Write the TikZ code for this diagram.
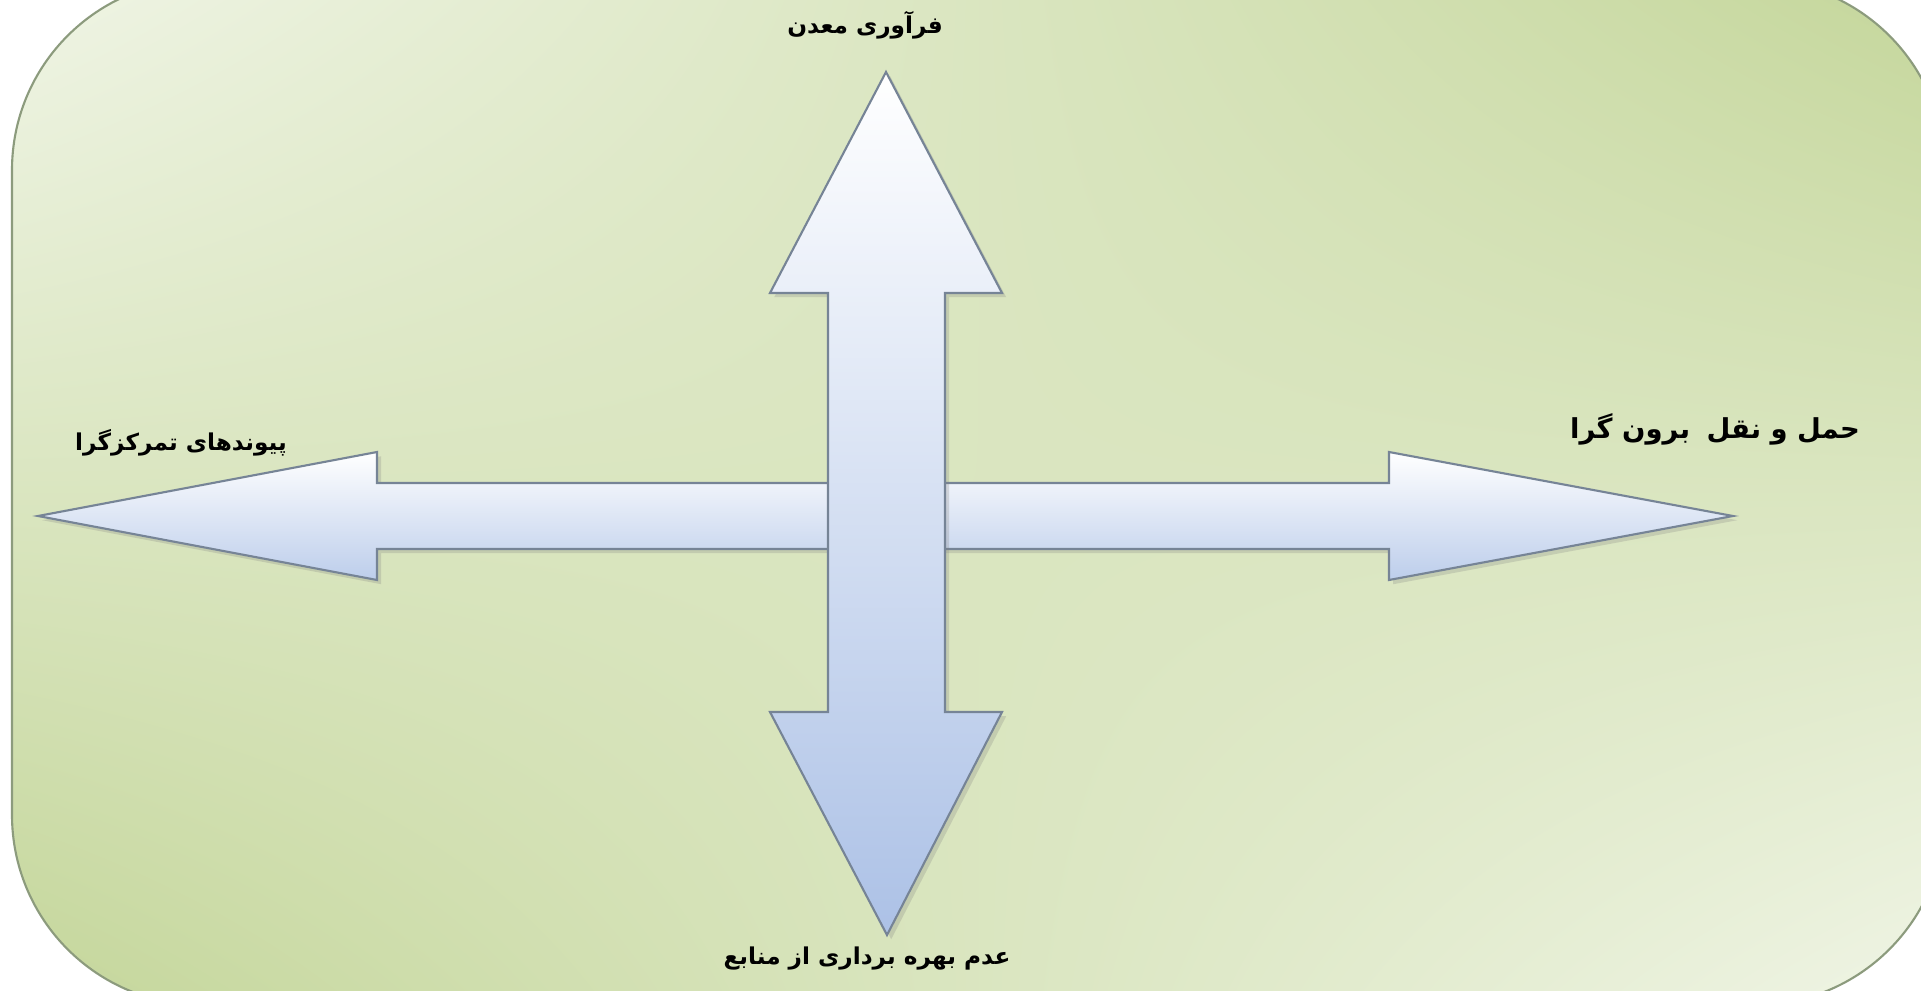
\documentclass[tikz,border=0pt]{standalone}
\usepackage{fontspec}
\newfontfamily\arabicfont[Script=Arabic]{DejaVu Sans}
\TeXXeTstate=1
\usetikzlibrary{positioning, shadows, shadings}
\definecolor{bglight}{RGB}{240,245,230}
\definecolor{bggreen}{RGB}{196,214,154}
\definecolor{bgedge}{RGB}{140,155,125}
\definecolor{arrblue}{RGB}{172,193,230}
\definecolor{arredge}{RGB}{118,132,150}

\begin{document}
\begin{tikzpicture}[x=0.01cm, y=-0.01cm,
  lbl/.style={font=\arabicfont\bfseries\fontsize{6.6}{8}\selectfont, inner sep=0pt},
  harr/.style={draw=arredge, line width=0.6pt, top color=white, bottom color=arrblue!80,
    drop shadow={opacity=0.25, shadow xshift=1.2pt, shadow yshift=-1.2pt}},
  varr/.style={draw=arredge, line width=0.6pt, top color=white, bottom color=arrblue,
    drop shadow={opacity=0.25, shadow xshift=1.2pt, shadow yshift=-1.2pt}}
]
\useasboundingbox (0,0) rectangle (1921,991);
\clip (0,0) rectangle (1921,991);
\fill[white] (0,0) rectangle (1921,991);
% background panel
\shade[upper left=bglight, upper right=bggreen, lower left=bggreen, lower right=bglight,
  rounded corners=1.9cm] (12,-20) rectangle (1945,1005);
\draw[bgedge, line width=0.6pt, rounded corners=1.9cm] (12,-20) rectangle (1945,1005);

% horizontal double arrow
\filldraw[harr] (38,516) -- (377,452) -- (377,483) -- (1389,483) -- (1389,452) -- (1733,516)
  -- (1389,580) -- (1389,549) -- (377,549) -- (377,580) -- cycle;
% vertical double arrow
\filldraw[varr] (886,72) -- (1002,293) -- (945,293) -- (945,712) -- (1002,712) -- (887,935)
  -- (770,712) -- (828,712) -- (828,293) -- (770,293) -- cycle;

\node[lbl] (mine) at (865,25) {\beginR فرآوری معدن\endR};
\node[lbl] (links) at (181,443) {\beginR پیوندهای تمرکزگرا\endR};
\node[lbl, font=\arabicfont\bfseries\fontsize{7.8}{9}\selectfont] (trans) at (1715,429)
  {\beginR حمل و نقل\hspace{0.6em}برون گرا\endR};
\node[lbl] (res) at (867,959) {\beginR عدم بهره برداری از منابع\endR};
\end{tikzpicture}
\end{document}
